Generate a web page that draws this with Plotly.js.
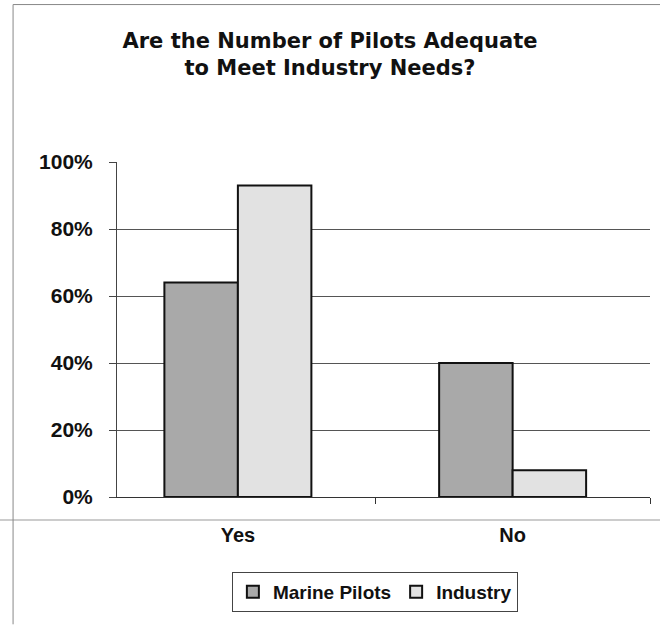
<!DOCTYPE html>
<html>
<head>
<meta charset="utf-8">
<script src="https://cdn.plot.ly/plotly-3.0.1.min.js"></script>
<style>html,body{margin:0;padding:0;background:#fff;}#chart{width:660px;height:625px;}</style>
</head>
<body>
<div id="chart"></div>
<script>
const categories = ["Yes", "No"];
const marinePilots = [64, 40];
const industry = [93, 8];
const seriesNames = ["Marine Pilots", "Industry"];
const yTickVals = [0, 20, 40, 60, 80, 100];
const yTickText = ["0%", "20%", "40%", "60%", "80%", "100%"];

const fontFam = "Liberation Sans, Arial, sans-serif";
const titleFam = "DejaVu Sans, Liberation Sans, sans-serif";

const traces = [
  {type: "bar", name: "<b>" + seriesNames[0] + "</b>", x: categories, y: marinePilots,
   marker: {color: "#a9a9a9", line: {color: "#111", width: 2}}},
  {type: "bar", name: "<b>" + seriesNames[1] + "</b>", x: categories, y: industry,
   marker: {color: "#e2e2e2", line: {color: "#111", width: 2}}}
];

const layout = {
  width: 660, height: 625,
  margin: {l: 117, r: 10, t: 162, b: 128},
  paper_bgcolor: "#fff", plot_bgcolor: "#fff",
  font: {family: fontFam, color: "#111"},
  title: {text: "<b>Are the Number of Pilots Adequate<br>to Meet Industry Needs?</b>",
          font: {size: 21, family: titleFam, color: "#111"},
          x: 0.5, xref: "container", xanchor: "center",
          y: 0.923, yref: "container", yanchor: "top"},
  barmode: "group", bargap: 0.465, bargroupgap: 0,
  xaxis: {type: "category", range: [-0.44, 1.5], showline: true, linecolor: "#333", linewidth: 1,
          ticks: "outside", tickson: "boundaries", ticklen: 6, tickcolor: "#333",
          ticklabelstandoff: 20,
          tickfont: {size: 20, family: fontFam, color: "#111"},
          tickprefix: "<b>", ticksuffix: "</b>", showgrid: false, zeroline: false},
  yaxis: {range: [0, 100], tickvals: yTickVals, ticktext: yTickText.map(t => "<b>" + t + "</b>"),
          showline: true, linecolor: "#444", linewidth: 1, ticks: "outside", ticklen: 7, tickcolor: "#444",
          ticklabelstandoff: 12,
          showgrid: true, gridcolor: "#555", gridwidth: 1, zeroline: false,
          tickfont: {size: 21, family: fontFam, color: "#111"}},
  showlegend: true,
  legend: {orientation: "h", x: 0.568, xref: "container", xanchor: "center",
           y: 0.085, yref: "container", yanchor: "top",
           bordercolor: "#444", borderwidth: 1, bgcolor: "#fff",
           font: {size: 19, family: fontFam, color: "#111"}, itemwidth: 30, traceorder: "normal"},
  shapes: [
    {type: "line", xref: "paper", yref: "paper", x0: -0.22, x1: 1.02, y0: -0.0687, y1: -0.0687,
     line: {color: "#999", width: 1}},
    {type: "line", xref: "paper", yref: "paper", x0: -0.195, x1: -0.195, y0: -0.38, y1: 1.47,
     line: {color: "#888", width: 1}},
    {type: "line", xref: "paper", yref: "paper", x0: -0.195, x1: 1.02, y0: 1.47, y1: 1.47,
     line: {color: "#888", width: 1}}
  ]
};

Plotly.newPlot("chart", traces, layout, {displayModeBar: false, staticPlot: true});
</script>
</body>
</html>
